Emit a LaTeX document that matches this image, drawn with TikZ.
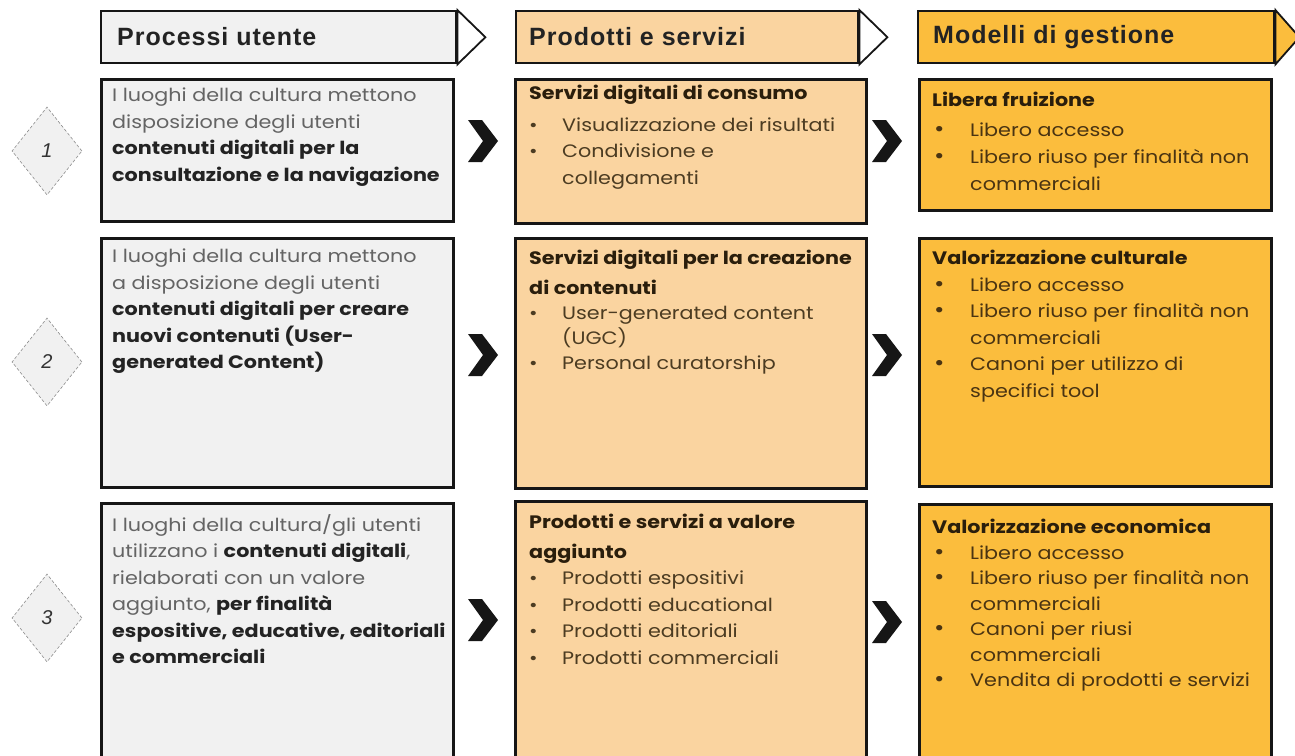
\documentclass[tikz,border=0pt]{standalone}
\usepackage{fontspec}
\setmainfont{Poppins}[FakeStretch=1.15]
\newfontfamily\hdfont[LetterSpace=4]{Liberation Sans}
\newfontfamily\numfont{Liberation Sans}
\usetikzlibrary{shapes.geometric}
\definecolor{grayfill}{HTML}{F1F1F1}
\definecolor{peach}{HTML}{FAD4A0}
\definecolor{amber}{HTML}{FBBD3D}
\definecolor{boxline}{HTML}{161616}
\definecolor{gtxt}{HTML}{646464}
\definecolor{gbold}{HTML}{232323}
\definecolor{btxt}{HTML}{4C3C22}
\definecolor{bbold}{HTML}{2A1E0C}
\definecolor{atxt}{HTML}{4A3412}
\definecolor{diaedge}{HTML}{8C8C8C}
\newcommand{\bpa}{\makebox[33pt][l]{\textbullet}}
\newcommand{\bpb}{\makebox[38pt][l]{\hspace{2pt}{\fontsize{22}{0}\selectfont\textbullet}}}
\tikzset{
  box/.style={draw=boxline, line width=2.6pt, anchor=north west, inner sep=0pt},
  hdr/.style={draw=boxline, line width=2.4pt, anchor=north west, inner sep=0pt, minimum height=52pt},
  hdrtri/.style={draw=boxline, line width=1.8pt, line join=miter},
  hdrtext/.style={anchor=west, inner sep=0pt, text=gbold, font=\hdfont\bfseries\fontsize{25}{30}\selectfont},
  txt/.style={anchor=north west, align=left, inner sep=0pt, font=\fontsize{18}{26.5}\selectfont},
  dia/.style={diamond, draw=diaedge, densely dashed, line width=0.6pt, fill=grayfill, inner sep=0pt,
    minimum width=70pt, minimum height=88pt, font=\numfont\itshape\fontsize{20}{24}\selectfont, text=black!80},
  chev/.pic={\fill[boxline] (-15,-21) -- (-1,-21) -- (15,0) -- (-1,21) -- (-15,21) -- (0,0) -- cycle;}
}
\begin{document}
\begin{tikzpicture}[x=1pt,y=-1pt]
\useasboundingbox (0,0) rectangle (1295,755);
\clip (0,0) rectangle (1295,755);
\fill[white] (0,0) rectangle (1295,755);

% headers
\node[hdr, fill=grayfill, minimum width=355pt] (h1) at (100,10) {};
\draw[hdrtri, fill=white] (h1.north east) -- ([xshift=28pt]h1.east) -- (h1.south east) -- cycle;
\node[hdrtext] (ht1) at (117,37) {Processi utente};

\node[hdr, fill=peach, minimum width=342pt] (h2) at (515,10) {};
\draw[hdrtri, fill=white] (h2.north east) -- ([xshift=28pt]h2.east) -- (h2.south east) -- cycle;
\node[hdrtext] (ht2) at (529,37) {Prodotti e servizi};

\node[hdr, fill=amber, minimum width=356pt] (h3) at (917,10) {};
\draw[hdrtri, fill=amber] (h3.north east) -- ([xshift=24pt]h3.east) -- (h3.south east) -- cycle;
\node[hdrtext] (ht3) at (933,37) {Modelli di gestione};

% column 1 boxes
\node[box, fill=grayfill, minimum width=352pt, minimum height=142pt] (b11) at (100,78) {};
\node[box, fill=grayfill, minimum width=352pt, minimum height=249pt] (b21) at (100,237) {};
\node[box, fill=grayfill, minimum width=352pt, minimum height=280pt] (b31) at (100,502) {};
% column 2 boxes
\node[box, fill=peach, minimum width=351pt, minimum height=144pt] (b12) at (514,78) {};
\node[box, fill=peach, minimum width=351pt, minimum height=250pt] (b22) at (514,237) {};
\node[box, fill=peach, minimum width=351pt, minimum height=280pt] (b32) at (514,500) {};
% column 3 boxes
\node[box, fill=amber, minimum width=352pt, minimum height=131pt] (b13) at (918,78) {};
\node[box, fill=amber, minimum width=352pt, minimum height=248pt] (b23) at (918,237) {};
\node[box, fill=amber, minimum width=352pt, minimum height=280pt] (b33) at (918,503) {};

% diamonds
\node[dia] (d1) at (47,151) {1};
\node[dia] (d2) at (47,362) {2};
\node[dia] (d3) at (47,618) {3};

% chevrons
\pic at (483,141) {chev};
\pic at (887,141) {chev};
\pic at (483,355) {chev};
\pic at (887,355) {chev};
\pic at (483,620) {chev};
\pic at (887,622) {chev};

% column 1 texts
\node[txt, text=gtxt] (t11) at (112,88) {I luoghi della cultura mettono\\
disposizione degli utenti\\
\textcolor{gbold}{\bfseries contenuti digitali per la}\\
\textcolor{gbold}{\bfseries consultazione e la navigazione}};

\node[txt, text=gtxt] (t21) at (112,249) {I luoghi della cultura mettono\\
a disposizione degli utenti\\
\textcolor{gbold}{\bfseries contenuti digitali per creare}\\
\textcolor{gbold}{\bfseries nuovi contenuti (User-}\\
\textcolor{gbold}{\bfseries generated Content)}};

\node[txt, text=gtxt] (t31) at (112,514) {I luoghi della cultura/gli utenti\\
utilizzano i \textcolor{gbold}{\bfseries contenuti digitali},\\
rielaborati con un valore\\
aggiunto, \textcolor{gbold}{\bfseries per finalità}\\
\textcolor{gbold}{\bfseries espositive, educative, editoriali}\\
\textcolor{gbold}{\bfseries e commerciali}};

% column 2 texts
\node[txt, text=btxt] (t12) at (529,85) {\textcolor{bbold}{\bfseries Servizi digitali di consumo}\\[5pt]
\bpa Visualizzazione dei risultati\\
\bpa Condivisione e\\
\hspace*{33pt}collegamenti};

\node[txt, text=btxt] (t22) at (529,250) {\textcolor{bbold}{\bfseries Servizi digitali per la creazione}\\[3pt]
\textcolor{bbold}{\bfseries di contenuti}\\[-1pt]
\bpa User-generated content\\[-1.5pt]
\hspace*{33pt}(UGC)\\[-1.5pt]
\bpa Personal curatorship};

\node[txt, text=btxt] (t32) at (529,514) {\textcolor{bbold}{\bfseries Prodotti e servizi a valore}\\[3pt]
\textcolor{bbold}{\bfseries aggiunto}\\
\bpa Prodotti espositivi\\
\bpa Prodotti educational\\
\bpa Prodotti editoriali\\
\bpa Prodotti commerciali};

% column 3 texts
\node[txt, text=atxt] (t13) at (932,92) {\textcolor{bbold}{\bfseries Libera fruizione}\\[3pt]
\bpb Libero accesso\\[1pt]
\bpb Libero riuso per finalità non\\
\hspace*{38pt}commerciali};

\node[txt, text=atxt] (t23) at (932,250) {\textcolor{bbold}{\bfseries Valorizzazione culturale}\\
\bpb Libero accesso\\
\bpb Libero riuso per finalità non\\
\hspace*{38pt}commerciali\\
\bpb Canoni per utilizzo di\\
\hspace*{38pt}specifici tool};

\node[txt, text=atxt] (t33) at (932,519) {\textcolor{bbold}{\bfseries Valorizzazione economica}\\[-1pt]
\bpb Libero accesso\\[-1pt]
\bpb Libero riuso per finalità non\\[-1pt]
\hspace*{38pt}commerciali\\[-1pt]
\bpb Canoni per riusi\\[-1pt]
\hspace*{38pt}commerciali\\[-1pt]
\bpb Vendita di prodotti e servizi};
\end{tikzpicture}
\end{document}
